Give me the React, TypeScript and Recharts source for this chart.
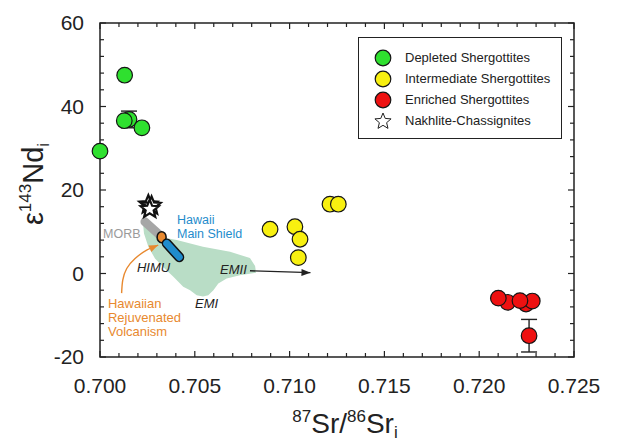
import React from "react";
import {
  ScatterChart,
  Scatter,
  XAxis,
  YAxis,
  ReferenceLine,
  ReferenceArea,
  ErrorBar,
  Legend,
  Curve,
} from "recharts";

const FONT = '"Liberation Sans", Arial, Helvetica, sans-serif';

// axis ticks
const xTicks = [0.7, 0.705, 0.71, 0.715, 0.72, 0.725];
const yTicks = [-20, 0, 20, 40, 60];

// meteorite groups
const depleted = [
  { x: 0.70153, y: 36.9 },
  { x: 0.7, y: 29.3 },
  { x: 0.7013, y: 47.5 },
  { x: 0.70221, y: 34.9 },
  { x: 0.70128, y: 36.6 },
];
const intermediate = [
  { x: 0.70897, y: 10.6 },
  { x: 0.71028, y: 11.2 },
  { x: 0.71055, y: 8.2 },
  { x: 0.71046, y: 3.8 },
  { x: 0.71213, y: 16.6 },
  { x: 0.71257, y: 16.6 },
];
const enriched = [
  { x: 0.7215, y: -6.9 },
  { x: 0.72101, y: -5.9 },
  { x: 0.72247, y: -7.3 },
  { x: 0.7228, y: -6.6 },
  { x: 0.72215, y: -6.5 },
  { x: 0.72263, y: -14.9 },
];
const nakhlites = [
  { x: 0.70255, y: 16.5 },
  { x: 0.70272, y: 16.2 },
  { x: 0.70262, y: 15.4 },
];
const errorPoints = [
  { x: 0.70153, y: 36.9, err: 2 },
  { x: 0.72263, y: -14.9, err: 3.9 },
];

// terrestrial fields
const mantleField = [
  { x: 0.70237, y: 11.2 },
  { x: 0.7029, y: 9.0 },
  { x: 0.70405, y: 8.0 },
  { x: 0.70543, y: 6.4 },
  { x: 0.70686, y: 5.2 },
  { x: 0.70791, y: 3.7 },
  { x: 0.70818, y: 1.8 },
  { x: 0.70823, y: 0.2 },
  { x: 0.70738, y: -0.4 },
  { x: 0.70668, y: -1.2 },
  { x: 0.70624, y: -2.4 },
  { x: 0.70598, y: -4.0 },
  { x: 0.70571, y: -5.2 },
  { x: 0.70543, y: -5.5 },
  { x: 0.7051, y: -5.2 },
  { x: 0.70475, y: -4.0 },
  { x: 0.70439, y: -3.2 },
  { x: 0.70387, y: -0.8 },
  { x: 0.70334, y: 1.5 },
  { x: 0.7029, y: 3.6 },
  { x: 0.70255, y: 6.4 },
  { x: 0.70232, y: 9.6 },
  { x: 0.70227, y: 11.9 },
];
const morbField = [
  { x: 0.70237, y: 12.4 },
  { x: 0.70325, y: 8.8 },
];
const hawaiiShield = [
  { x: 0.70352, y: 7.2 },
  { x: 0.70418, y: 3.9 },
];
const rejuvenated = [{ x: 0.70325, y: 8.7 }];
const rejuvArrow = [
  { x: 0.70114, y: -4.7 },
  { x: 0.7012, y: -1.6 },
  { x: 0.70141, y: 1.2 },
  { x: 0.70185, y: 3.6 },
  { x: 0.70246, y: 5.6 },
  { x: 0.70307, y: 6.8 },
];
const emiiArrow = [
  { x: 0.70791, y: 0.65 },
  { x: 0.7111, y: 0.2 },
];

// annotations
const morbLabel = [{ x: 0.70016, y: 8.5, text: "MORB" }];
const hawaiiLabels = [
  { x: 0.70406, y: 11.9, text: "Hawaii" },
  { x: 0.70406, y: 8.5, text: "Main Shield" },
];
const mantleLabels = [
  { x: 0.70195, y: 0.4, text: "HIMU" },
  { x: 0.70633, y: -0.1, text: "EMII" },
  { x: 0.70501, y: -8.3, text: "EMI" },
];
const rejuvLabels = [
  { x: 0.70042, y: -8.2, text: "Hawaiian" },
  { x: 0.70042, y: -11.6, text: "Rejuvenated" },
  { x: 0.70042, y: -15.0, text: "Volcanism" },
];

const legendNames = [
  "Depleted Shergottites",
  "Intermediate Shergottites",
  "Enriched Shergottites",
  "Nakhlite-Chassignites",
];

const GREEN = "#2fe02f";
const YELLOW = "#f8f010";
const RED = "#ee1111";
const ORANGE = "#e8892f";
const BLUE = "#1f8ccc";
const legendFills = [GREEN, YELLOW, RED, null];

// px per data unit, used only for tick lengths
const PX_Y = 334 / 80;
const PX_X = 474 / 0.025;

function starPts(cx: number, cy: number, R: number, r: number) {
  const pts: string[] = [];
  for (let i = 0; i < 10; i++) {
    const a = -Math.PI / 2 + (i * Math.PI) / 5;
    const rad = i % 2 === 0 ? R : r;
    pts.push(`${cx + rad * Math.cos(a)},${cy + rad * Math.sin(a)}`);
  }
  return pts.join(" ");
}

const dot = (fill: string) => (p: any) =>
  <circle cx={p.cx} cy={p.cy} r={7.8} fill={fill} stroke="#151515" strokeWidth={1.2} />;

const star = (p: any) =>
  <polygon points={starPts(p.cx, p.cy, 9.5, 4.2)} fill="#fff" stroke="#111" strokeWidth={2.2} />;

const none = () => null;

const label = (style: any) => (p: any) =>
  <text x={p.cx} y={p.cy} fontFamily={FONT} {...style}>{p.payload.text}</text>;

function arrowLine(color: string, type: string) {
  return (p: any) => {
    const pts = p.points;
    const a = pts[pts.length - 2];
    const b = pts[pts.length - 1];
    const ang = Math.atan2(b.y - a.y, b.x - a.x);
    const L = 9;
    const W = 3.5;
    const bx = b.x - L * Math.cos(ang);
    const by = b.y - L * Math.sin(ang);
    const head = `${b.x},${b.y} ${bx + W * Math.sin(ang)},${by - W * Math.cos(ang)} ${bx - W * Math.sin(ang)},${by + W * Math.cos(ang)}`;
    return (
      <g>
        <Curve points={pts} type={type as any} stroke={color} strokeWidth={1.4} fill="none" />
        <polygon points={head} fill={color} />
      </g>
    );
  };
}

const xTitle = (props: any) => {
  const vb = props.viewBox;
  const cx = vb.x + vb.width / 2 + 8;
  const y = vb.y + 76;
  return (
    <text x={cx} y={y} textAnchor="middle" fontFamily={FONT} fontSize={28} fill="#222">
      <tspan fontSize={17} dy={-11}>87</tspan>
      <tspan dy={11}>Sr/</tspan>
      <tspan fontSize={17} dy={-11}>86</tspan>
      <tspan dy={11}>Sr</tspan>
      <tspan fontSize={17} dy={5}>i</tspan>
    </text>
  );
};

const yTitle = (props: any) => {
  const vb = props.viewBox;
  const cx = vb.x + 43;
  const cy = vb.y + vb.height / 2 - 6;
  return (
    <text x={cx} y={cy} transform={`rotate(-90 ${cx} ${cy})`} textAnchor="middle" fontFamily={FONT} fontSize={29} fill="#222">
      ε<tspan fontSize={17} dy={-12}>143</tspan>
      <tspan dy={12}>Nd</tspan>
      <tspan fontSize={17} dy={6}>i</tspan>
    </text>
  );
};

function LegendBox() {
  return (
    <div
      style={{
        width: 204,
        height: 102,
        boxSizing: "border-box",
        border: "1.5px solid #222",
        background: "#fff",
        paddingTop: 9,
        fontFamily: FONT,
        fontSize: 13,
        color: "#222",
      }}
    >
      {legendNames.map((name, i) => (
        <div key={name} style={{ display: "flex", alignItems: "center", height: 21 }}>
          <svg width={18} height={18} style={{ marginLeft: 15, marginRight: 13 }}>
            {legendFills[i] ? (
              <circle cx={9} cy={9} r={7.8} fill={legendFills[i] as string} stroke="#151515" strokeWidth={1.2} />
            ) : (
              <polygon points={starPts(9, 9.5, 8.5, 3.8)} fill="#fff" stroke="#222" strokeWidth={1} />
            )}
          </svg>
          <span>{name}</span>
        </div>
      ))}
    </div>
  );
}

const xMinor = Array.from({ length: 26 }, (_, i) => 0.7 + i * 0.001);
const yMinor = Array.from({ length: 21 }, (_, i) => -20 + i * 4);

export default function App() {
  const tickStyle = { fontSize: 21, fill: "#222", fontFamily: FONT };
  return (
    <div style={{ position: "absolute", left: 0, top: 0, width: 617, height: 447, background: "#fff" }}>
      <ScatterChart width={617} height={447} margin={{ top: 23, right: 43, bottom: 0, left: 0 }}>
        <XAxis
          type="number"
          dataKey="x"
          domain={[0.7, 0.725]}
          ticks={xTicks}
          interval={0}
          tickFormatter={(v: number) => v.toFixed(3)}
          tickLine={false}
          axisLine={false}
          tickSize={10}
          tickMargin={11}
          height={90}
          tick={tickStyle}
          label={xTitle}
        />
        <YAxis
          type="number"
          dataKey="y"
          domain={[-20, 60]}
          ticks={yTicks}
          interval={0}
          tickLine={false}
          axisLine={false}
          tickSize={8}
          tickMargin={8}
          width={100}
          tick={tickStyle}
          label={yTitle}
        />
        <ReferenceArea x1={0.7} x2={0.725} y1={-20} y2={60} fill="none" stroke="#222" strokeWidth={1.5} ifOverflow="visible" />
        {xMinor.map((t, i) => {
          const len = (i % 5 === 0 ? 6 : 4) / PX_Y;
          return [
            <ReferenceLine key={`xb${i}`} segment={[{ x: t, y: -20 }, { x: t, y: -20 + len }]} stroke="#222" strokeWidth={1.2} ifOverflow="visible" />,
            <ReferenceLine key={`xt${i}`} segment={[{ x: t, y: 60 }, { x: t, y: 60 - len }]} stroke="#222" strokeWidth={1.2} ifOverflow="visible" />,
          ];
        })}
        {yMinor.map((v, i) => {
          const len = (i % 5 === 0 ? 6 : 4) / PX_X;
          return [
            <ReferenceLine key={`yl${i}`} segment={[{ x: 0.7, y: v }, { x: 0.7 + len, y: v }]} stroke="#222" strokeWidth={1.2} ifOverflow="visible" />,
            <ReferenceLine key={`yr${i}`} segment={[{ x: 0.725, y: v }, { x: 0.725 - len, y: v }]} stroke="#222" strokeWidth={1.2} ifOverflow="visible" />,
          ];
        })}

        <Scatter
          data={mantleField}
          shape={none}
          isAnimationActive={false}
          line={(p: any) => <Curve points={p.points} type="linearClosed" fill="#b9ddc6" stroke="none" />}
        />
        <Scatter
          data={morbField}
          shape={none}
          isAnimationActive={false}
          line={(p: any) => <Curve points={p.points} type="linear" fill="none" stroke="#a6a6a6" strokeWidth={9} strokeLinecap="round" />}
        />
        <Scatter data={rejuvArrow} shape={none} isAnimationActive={false} line={arrowLine(ORANGE, "natural")} />
        <Scatter
          data={rejuvenated}
          isAnimationActive={false}
          shape={(p: any) => <ellipse cx={p.cx} cy={p.cy} rx={4.5} ry={5.5} fill={ORANGE} stroke="#111" strokeWidth={1.5} />}
        />
        <Scatter
          data={hawaiiShield}
          shape={none}
          isAnimationActive={false}
          line={(p: any) => (
            <g>
              <Curve points={p.points} type="linear" fill="none" stroke="#111" strokeWidth={10} strokeLinecap="round" />
              <Curve points={p.points} type="linear" fill="none" stroke={BLUE} strokeWidth={7} strokeLinecap="round" />
            </g>
          )}
        />
        <Scatter data={emiiArrow} shape={none} isAnimationActive={false} line={arrowLine("#222", "linear")} />

        <Scatter data={morbLabel} isAnimationActive={false} shape={label({ fontSize: 12.5, fill: "#9a9a9a" })} />
        <Scatter data={hawaiiLabels} isAnimationActive={false} shape={label({ fontSize: 12.5, fill: BLUE })} />
        <Scatter data={mantleLabels} isAnimationActive={false} shape={label({ fontSize: 13, fill: "#222", fontStyle: "italic" })} />
        <Scatter data={rejuvLabels} isAnimationActive={false} shape={label({ fontSize: 13, fill: ORANGE })} />

        <Scatter data={nakhlites} isAnimationActive={false} shape={star} />
        <Scatter data={errorPoints} shape={none} isAnimationActive={false}>
          <ErrorBar dataKey="err" direction="y" width={8} stroke="#222" strokeWidth={1.4} />
        </Scatter>
        <Scatter data={depleted} isAnimationActive={false} shape={dot(GREEN)} />
        <Scatter data={intermediate} isAnimationActive={false} shape={dot(YELLOW)} />
        <Scatter data={enriched} isAnimationActive={false} shape={dot(RED)} />

        <Legend
          layout="horizontal"
          verticalAlign="middle"
          align="center"
          width={204}
          height={102}
          wrapperStyle={{ left: 358, top: 37 }}
          content={() => <LegendBox />}
        />
      </ScatterChart>
    </div>
  );
}
